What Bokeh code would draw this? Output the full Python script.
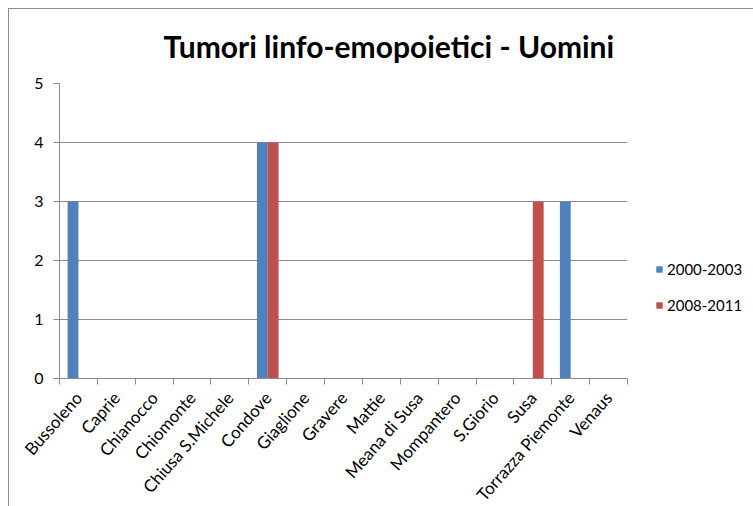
import numpy as np
from bokeh.plotting import figure
from bokeh.models import (ColumnDataSource, Range1d, FixedTicker, Legend, LegendItem)
from bokeh.transform import dodge
from bokeh.embed import file_html
from bokeh.resources import INLINE

categories = ["Bussoleno", "Caprie", "Chianocco", "Chiomonte", "Chiusa S.Michele",
              "Condove", "Giaglione", "Gravere", "Mattie", "Meana di Susa",
              "Mompantero", "S.Giorio", "Susa", "Torrazza Piemonte", "Venaus"]
series_names = ["2000-2003", "2008-2011"]
v_2000_2003 = [3, 0, 0, 0, 0, 4, 0, 0, 0, 0, 0, 0, 0, 3, 0]
v_2008_2011 = [0, 0, 0, 0, 0, 4, 0, 0, 0, 0, 0, 0, 3, 0, 0]
y_ticks = [0, 1, 2, 3, 4, 5]
title_text = "Tumori linfo-emopoietici - Uomini"

FONT = "Lato"
BLUE = "#4F81BD"
RED = "#C0504D"
GRID = "#8C8C8C"

idx = list(range(len(categories)))
src = ColumnDataSource(dict(idx=idx, a=v_2000_2003, b=v_2008_2011))

n = len(categories)
bw = 1 / 3.5

p = figure(width=744, height=497, output_backend="svg", toolbar_location=None,
           x_range=Range1d(-0.5, n - 0.5), y_range=Range1d(0, 5),
           min_border_left=50, min_border_top=74, min_border_right=117,
           min_border_bottom=128, frame_width=568, frame_height=295,
           title=title_text)
p.styles = {"border-left": "1px solid #8C8C8C", "border-top": "1px solid #8C8C8C",
            "margin-left": "8px", "margin-top": "8px"}
p.outline_line_color = None

p.title.text_font = FONT
p.title.text_font_size = "30px"
p.title.text_font_style = "bold"
p.title.text_color = "#000000"
p.title.align = "left"
p.title.vertical_align = "top"
p.title.offset = 104
p.title.standoff = 36

r1 = p.vbar(x=dodge("idx", -bw / 2, range=p.x_range), top="a", width=bw,
            source=src, fill_color=BLUE, line_color=None)
r2 = p.vbar(x=dodge("idx", bw / 2, range=p.x_range), top="b", width=bw,
            source=src, fill_color=RED, line_color=None)

# x axis
xa = p.xaxis[0]
xa.ticker = FixedTicker(ticks=idx, minor_ticks=[i - 0.5 for i in range(n + 1)])
xa.major_label_overrides = {i: c for i, c in zip(idx, categories)}
xa.major_label_orientation = 0.85
xa.major_tick_line_color = None
xa.major_tick_out = 0
xa.major_tick_in = 0
xa.minor_tick_out = 6
xa.minor_tick_in = 0
xa.minor_tick_line_color = GRID
xa.axis_line_color = GRID
xa.major_label_text_font = FONT
xa.major_label_text_font_size = "17px"
xa.major_label_text_color = "#000000"
xa.major_label_standoff = 10

ya = p.yaxis[0]
ya.ticker = FixedTicker(ticks=y_ticks)
ya.axis_line_color = GRID
ya.major_tick_line_color = GRID
ya.major_tick_out = 6
ya.major_tick_in = 0
ya.minor_tick_line_color = None
ya.major_label_text_font = FONT
ya.major_label_text_font_size = "16px"
ya.major_label_text_color = "#000000"
ya.major_label_standoff = 10

p.xgrid.grid_line_color = None
p.ygrid.grid_line_color = GRID
p.ygrid.ticker = FixedTicker(ticks=y_ticks)

legend = Legend(items=[LegendItem(label=series_names[0], renderers=[r1]),
                       LegendItem(label=series_names[1], renderers=[r2])],
                location=(28, 63), padding=0, margin=0, spacing=16,
                glyph_width=8, glyph_height=8, label_height=20,
                label_standoff=4, border_line_color=None,
                background_fill_alpha=0,
                label_text_font=FONT, label_text_font_size="15px",
                label_text_color="#000000")
p.add_layout(legend, "right")

open("out.html", "w").write(file_html(p, INLINE))
